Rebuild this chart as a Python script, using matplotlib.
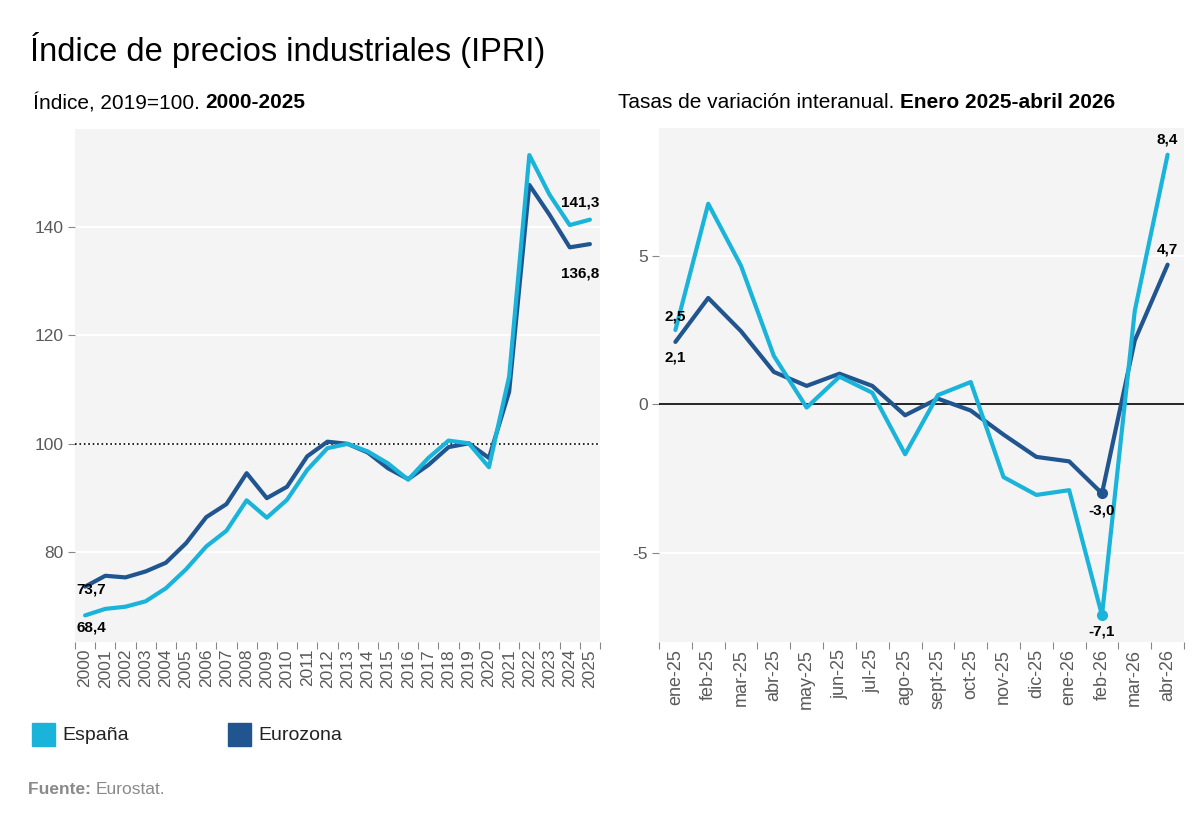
import matplotlib
matplotlib.use("Agg")
import matplotlib.pyplot as plt
import numpy as np

plt.rcParams['font.family'] = ['Liberation Sans', 'DejaVu Sans']

# data
years = [str(y) for y in range(2000, 2026)]
espana_idx = [68.4, 69.6, 70.0, 71.0, 73.4, 76.9, 81.1, 84.0, 89.6, 86.4,
              89.7, 95.2, 99.2, 100.0, 98.6, 96.4, 93.4, 97.4, 100.6, 100.1,
              95.7, 112.4, 153.2, 145.9, 140.3, 141.3]
euro_idx = [73.7, 75.7, 75.4, 76.5, 78.1, 81.7, 86.5, 88.9, 94.6, 90.0,
            92.1, 97.7, 100.4, 100.0, 98.4, 95.5, 93.5, 96.1, 99.4, 100.1,
            97.4, 109.6, 147.7, 142.2, 136.2, 136.8]

months = ['ene-25', 'feb-25', 'mar-25', 'abr-25', 'may-25', 'jun-25', 'jul-25',
          'ago-25', 'sept-25', 'oct-25', 'nov-25', 'dic-25', 'ene-26', 'feb-26',
          'mar-26', 'abr-26']
espana_var = [2.5, 6.75, 4.66, 1.63, -0.11, 0.93, 0.39, -1.68, 0.31, 0.75,
              -2.45, -3.05, -2.89, -7.1, 3.15, 8.4]
euro_var = [2.1, 3.58, 2.46, 1.09, 0.62, 1.03, 0.62, -0.37, 0.19, -0.21,
            -1.02, -1.77, -1.92, -3.0, 2.15, 4.7]

C_ES = '#1ab4da'
C_EU = '#21558f'
BG = '#f4f4f4'
GRAY = '#5a5a5a'

W, H = 1200, 814
fig = plt.figure(figsize=(12, 8.14), dpi=100)
renderer = fig.canvas.get_renderer()


def px_axes(x0, y0, x1, y1):
    return fig.add_axes([x0 / W, 1 - y1 / H, (x1 - x0) / W, (y1 - y0) / H])


def text_row(x, y, parts, **kw):
    # write pieces of text one after another (normal / bold)
    for s, weight in parts:
        t = fig.text(x / W, 1 - y / H, s, fontweight=weight, va='center',
                     ha='left', **kw)
        x += t.get_window_extent(renderer).width


def style(ax, n, labels, fs):
    ax.set_facecolor(BG)
    for s in ax.spines.values():
        s.set_visible(False)
    ax.set_xlim(-0.5, n - 0.5)
    ax.set_xticks(range(n))
    ax.set_xticklabels(labels, rotation=90, fontsize=fs, color=GRAY)
    ax.set_xticks(np.arange(-0.5, n, 1.0), minor=True)
    ax.tick_params(axis='x', which='major', length=0, pad=5)
    ax.tick_params(axis='x', which='minor', length=5, color='#888888', width=0.8)
    ax.tick_params(axis='y', length=5, color='#888888', width=0.8, labelsize=12.5,
                   labelcolor=GRAY, pad=3)
    ax.grid(axis='y', color='white', linewidth=1.5)
    ax.set_axisbelow(True)


lab = dict(fontsize=11, fontweight='bold', color='black', zorder=6)

# left panel
ax1 = px_axes(75, 129, 600, 642)
x1 = np.arange(len(years))
style(ax1, len(years), years, 12.5)
ax1.set_ylim(63.5, 158)
ax1.set_yticks([80, 100, 120, 140])
ax1.axhline(100, color='black', linestyle=':', linewidth=1.2, zorder=1)
ax1.plot(x1, euro_idx, color=C_EU, linewidth=3, solid_capstyle='round', zorder=3)
ax1.plot(x1, espana_idx, color=C_ES, linewidth=3, solid_capstyle='round', zorder=4)

ax1.annotate('73,7', (x1[0], euro_idx[0]), xytext=(-6, -2), textcoords='offset points',
             ha='left', va='center', **lab)
ax1.annotate('68,4', (x1[0], espana_idx[0]), xytext=(-6, -9), textcoords='offset points',
             ha='left', va='center', **lab)
ax1.annotate('141,3', (x1[-1], espana_idx[-1]), xytext=(7, 12), textcoords='offset points',
             ha='right', va='center', **lab)
ax1.annotate('136,8', (x1[-1], euro_idx[-1]), xytext=(7, -21), textcoords='offset points',
             ha='right', va='center', **lab)

# right panel
ax2 = px_axes(659, 128, 1184, 642)
x2 = np.arange(len(months))
style(ax2, len(months), months, 13)
ax2.set_ylim(-8.0, 9.3)
ax2.set_yticks([-5, 0, 5])
ax2.set_yticklabels(['-5', '0', '5'])
ax2.axhline(0, color='black', linewidth=1.2, zorder=1)
ax2.plot(x2, euro_var, color=C_EU, linewidth=3, solid_capstyle='round', zorder=3)
ax2.plot(x2, espana_var, color=C_ES, linewidth=3, solid_capstyle='round', zorder=4)
imin = 13
ax2.plot(x2[imin], euro_var[imin], 'o', color=C_EU, markersize=7, zorder=5)
ax2.plot(x2[imin], espana_var[imin], 'o', color=C_ES, markersize=7, zorder=5)

ax2.annotate('2,5', (x2[0], espana_var[0]), xytext=(0, 5), textcoords='offset points',
             ha='center', va='bottom', **lab)
ax2.annotate('2,1', (x2[0], euro_var[0]), xytext=(0, -6), textcoords='offset points',
             ha='center', va='top', **lab)
ax2.annotate('8,4', (x2[-1], espana_var[-1]), xytext=(0, 6), textcoords='offset points',
             ha='center', va='bottom', **lab)
ax2.annotate('4,7', (x2[-1], euro_var[-1]), xytext=(0, 6), textcoords='offset points',
             ha='center', va='bottom', **lab)
ax2.annotate('-3,0', (x2[imin], euro_var[imin]), xytext=(0, -7), textcoords='offset points',
             ha='center', va='top', **lab)
ax2.annotate('-7,1', (x2[imin], espana_var[imin]), xytext=(0, -7), textcoords='offset points',
             ha='center', va='top', **lab)

# titles
fig.text(30 / W, 1 - 50 / H, 'Índice de precios industriales (IPRI)', fontsize=23.5,
         va='center', ha='left', color='black')
text_row(33, 103, [('Índice, 2019=100. ', 'normal'), ('2000-2025', 'bold')],
         fontsize=15, color='black')
text_row(618, 103, [('Tasas de variación interanual. ', 'normal'),
                    ('Enero 2025-abril 2026', 'bold')], fontsize=15, color='black')

# legend
for xs, name, col in [(32, 'España', C_ES), (228, 'Eurozona', C_EU)]:
    fig.patches.append(plt.Rectangle((xs / W, 1 - 746 / H), 23 / W, 23 / H,
                                     transform=fig.transFigure, color=col))
    fig.text((xs + 30) / W, 1 - 735 / H, name, fontsize=14, va='center', ha='left',
             color='#222222')

text_row(28, 789, [('Fuente: ', 'bold'), ('Eurostat.', 'normal')],
         fontsize=12.5, color='#8a8a8a')

fig.savefig('out.png', dpi=100)
